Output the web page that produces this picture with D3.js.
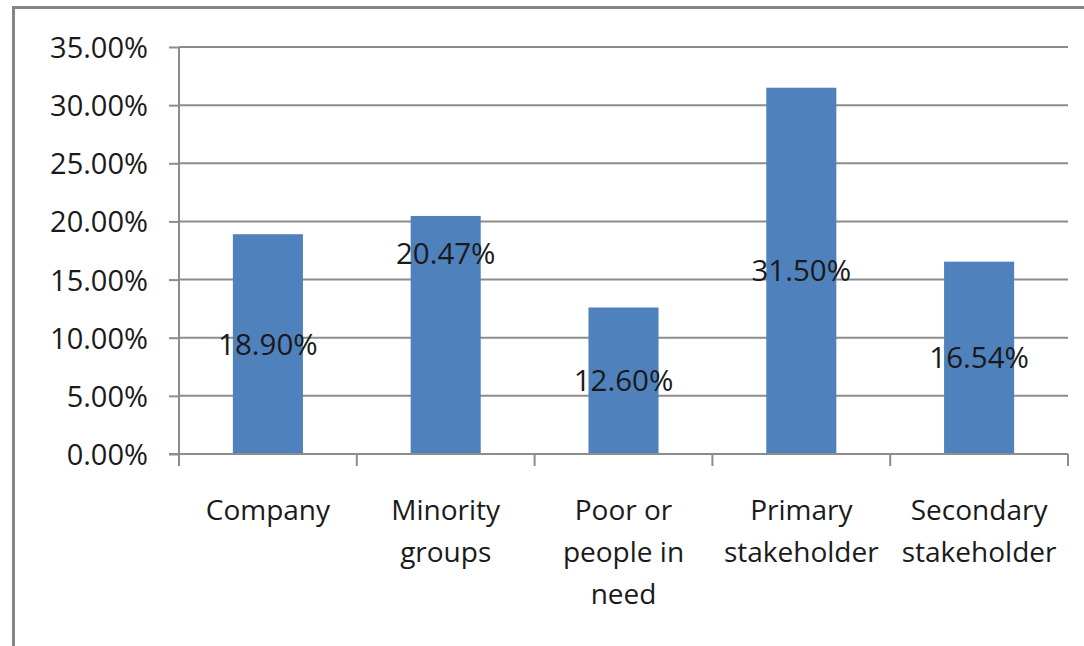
<!DOCTYPE html>
<html>
<head>
<meta charset="utf-8">
<script src="https://cdn.jsdelivr.net/npm/d3@7"></script>
<style>
  body { margin: 0; background: #fff; }
  svg { display: block; }
</style>
</head>
<body>
<svg id="bar-chart" width="1084" height="646"></svg>
<script>
// chart data
const categories = ["Company", "Minority groups", "Poor or people in need", "Primary stakeholder", "Secondary stakeholder"];
const categoryLines = [["Company"], ["Minority", "groups"], ["Poor or", "people in", "need"], ["Primary", "stakeholder"], ["Secondary", "stakeholder"]];
const values = [18.90, 20.47, 12.60, 31.50, 16.54];
const valueLabels = ["18.90%", "20.47%", "12.60%", "31.50%", "16.54%"];
const yTicks = [0, 5, 10, 15, 20, 25, 30, 35];

// label for "Minority groups" sits lower than the bar center in the original
const labelOverride = { "Minority groups": 17.27 };

renderBarChart();

function renderBarChart() {
  let svg = d3.select("#bar-chart"),
    left = 179,
    right = 1068,
    top = 47,
    bottom = 454;

  let fontFamily = "'Open Sans', 'Liberation Sans', sans-serif";
  let gridColor = "#8c8c8c";

  // outer frame (left and top edges only)
  svg.append("path")
    .attr("d", "M13.5,646 L13.5,7.5 L1084,7.5")
    .attr("fill", "none")
    .attr("stroke", "#858585")
    .attr("stroke-width", 3);

  let x = d3.scaleBand().domain(categories).range([left, right]).paddingInner(0.606).paddingOuter(0.303);
  let xb = d3.scaleBand().domain(categories).range([left, right]);
  let y = d3.scaleLinear().domain([0, 35]).range([bottom, top]);

  // gridlines
  svg.append("g")
    .selectAll("line")
    .data(yTicks.slice(1))
    .enter()
    .append("line")
    .attr("x1", left)
    .attr("x2", right)
    .attr("y1", (d) => y(d))
    .attr("y2", (d) => y(d))
    .attr("stroke", gridColor)
    .attr("stroke-width", 2);

  // bars
  svg.append("g")
    .selectAll("rect")
    .data(values)
    .enter()
    .append("rect")
    .attr("x", (d, i) => x(categories[i]))
    .attr("width", x.bandwidth())
    .attr("y", (d) => y(d))
    .attr("height", (d) => y(0) - y(d))
    .attr("fill", "#4F81BD");

  // y axis
  let yAxis = svg.append("g")
    .attr("transform", "translate(" + left + ",0)")
    .call(d3.axisLeft(y).tickValues(yTicks).tickSize(10).tickPadding(21)
      .tickFormat((d) => d.toFixed(2) + "%"));
  yAxis.select(".domain").attr("stroke", gridColor).attr("stroke-width", 2).attr("d", "M0," + top + "V" + bottom);
  yAxis.selectAll(".tick line").attr("stroke", gridColor).attr("stroke-width", 2);
  yAxis.selectAll("text")
    .attr("font-family", fontFamily)
    .attr("font-size", "29px")
    .attr("fill", "#1a1a1a")
    .attr("dy", "0.36em");

  // x axis
  let xAxis = svg.append("g")
    .attr("transform", "translate(0," + bottom + ")");
  xAxis.append("line")
    .attr("x1", left - 10)
    .attr("x2", right)
    .attr("stroke", gridColor)
    .attr("stroke-width", 2);
  xAxis.selectAll(".cat-tick")
    .data(categories.concat([null]))
    .enter()
    .append("line")
    .attr("x1", (d, i) => (d ? xb(d) : right))
    .attr("x2", (d, i) => (d ? xb(d) : right))
    .attr("y1", 0)
    .attr("y2", 12)
    .attr("stroke", gridColor)
    .attr("stroke-width", 2);

  let catText = xAxis.selectAll(".cat-label")
    .data(categories)
    .enter()
    .append("text")
    .attr("text-anchor", "middle")
    .attr("font-family", fontFamily)
    .attr("font-size", "28px")
    .attr("fill", "#1a1a1a")
    .attr("x", (d) => xb(d) + xb.bandwidth() / 2)
    .attr("y", 66);
  catText.each(function (d, i) {
    let t = d3.select(this);
    categoryLines[i].forEach((line, j) => {
      t.append("tspan")
        .attr("x", xb(d) + xb.bandwidth() / 2)
        .attr("dy", j === 0 ? 0 : 42)
        .text(line);
    });
  });

  // data labels
  svg.append("g")
    .selectAll("text")
    .data(values)
    .enter()
    .append("text")
    .attr("text-anchor", "middle")
    .attr("font-family", fontFamily)
    .attr("font-size", "29.5px")
    .attr("fill", "#1a1a1a")
    .attr("dy", "0.36em")
    .attr("x", (d, i) => x(categories[i]) + x.bandwidth() / 2)
    .attr("y", (d, i) => {
      let at = labelOverride[categories[i]];
      return at !== undefined ? y(at) : y(d / 2);
    })
    .text((d, i) => valueLabels[i]);
}
</script>
</body>
</html>
